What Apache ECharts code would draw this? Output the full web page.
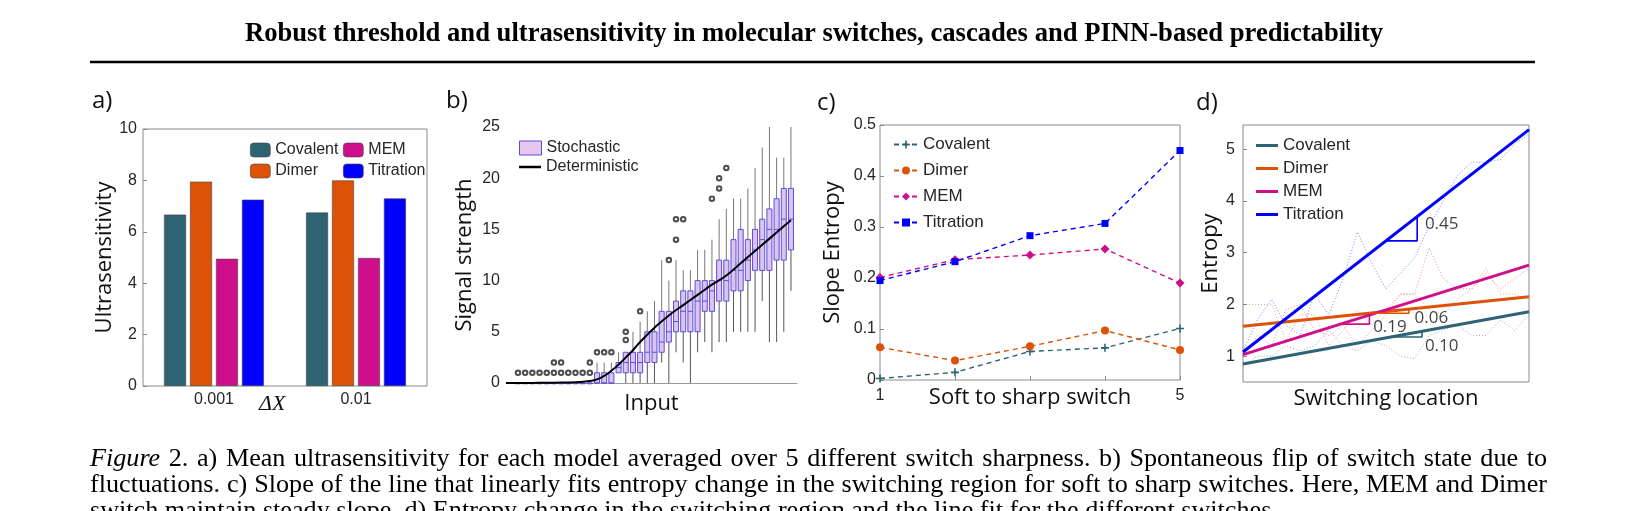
<!DOCTYPE html>
<html><head><meta charset="utf-8">
<script src="https://cdn.jsdelivr.net/npm/echarts@6/dist/echarts.min.js"></script>
<style>html,body{margin:0;padding:0;background:#fff}#c{width:1639px;height:511px}</style>
</head><body><div id="c"></div>
<script>
// ---- Panel a ----
const aCats = ['0.001', '0.01'];
const aCovalent = [6.67, 6.75];
const aDimer = [7.95, 8.0];
const aMEM = [4.95, 4.98];
const aTitration = [7.25, 7.3];
// ---- Panel b ----
const bPos = [1,2,3,4,5,6,7,8,9,10,11,12,13,14,15,16,17,18,19,20,21,22,23,24,25,26,27,28,29,30,31,32,33,34,35,36,37,38,39];
const bLow = [0,0,0,0,0,0,0,0,0,0,0,0,0,0,1,0,0,0,0,0,2,0,3,2,0,3,4,3,4,4,5,5,5,5,8,4,4,5,9];
const bQ1  = [0,0,0,0,0,0,0,0,0,0,0,0,0,0,1,1,1,1,2,2,3,4,5,5,5,5,7,7,8,8,9,9,10,11,11,11,12,12,13];
const bMed = [0,0,0,0,0,0,0,0,0,0,0,0,0,0,1.5,2,2,2,3,3,4,5,6,7,7,8,8,9,10,10,11,11,12,13,14,15,15,16,16];
const bQ3  = [0,0,0,0,0,0,0,0,0,0,0,1,1,1,2,3,3,3,5,5,7,7,8,9,9,10,10,10,12,12,14,15,14,15,16,17,18,19,19];
const bHigh= [0,0,0,0,0,0,0,0,0,0,0,2,2,2,3,3,5,6,7,8,12,10,12,11,11,13,13,14,16,17,18,18,19,21,23,25,22,22,25];
const bOutliers = [[1,1],[2,1],[3,1],[4,1],[5,1],[6,1],[6,2],[7,1],[7,2],[8,1],[9,1],[10,1],[11,1],[11,2],
  [12,3],[13,3],[14,3],[16,4.2],[16,5],[18,7],[22,12],[23,14],[23,16],[24,16],[28,18],[29,19],[29,20],[30,21]];
const bDetX = [-0.67,3,6,9,11,12,13,14,15,16,17,18,20,22,24,26,28,30,32,34,36,38,39];
const bDetY = [0,0.01,0.03,0.08,0.2,0.35,0.7,1.2,1.8,2.5,3.2,4.0,5.4,6.6,7.6,8.6,9.6,10.5,11.7,12.9,14.1,15.3,15.9];
// ---- Panel c ----
const cX = [1,2,3,4,5];
const cCovalent = [0.003,0.015,0.056,0.063,0.101];
const cDimer = [0.064,0.038,0.066,0.097,0.059];
const cMEM = [0.201,0.236,0.245,0.257,0.19];
const cTitration = [0.195,0.232,0.283,0.307,0.45];
// ---- Panel d ----
const dX = [0,0.05,0.1,0.15,0.2,0.25,0.3,0.35,0.4,0.45,0.5,0.55,0.6,0.65,0.7,0.75,0.8,0.85,0.9,0.95,1];
const dTitRaw = [1.1,1.7,2.1,1.6,1.4,2.2,1.8,2.5,3.4,2.8,2.3,2.6,2.9,3.5,4.0,4.5,4.75,4.75,4.8,5.1,5.3];
const dMEMRaw = [1.0,1.4,1.2,1.9,2.0,1.5,1.4,1.6,1.2,1.5,1.8,2.2,2.2,3.1,2.5,2.3,2.3,2.6,2.3,2.5,2.7];
const dDimRaw = [2.0,2.0,2.0,1.3,1.8,1.8,1.2,1.5,1.9,1.6,1.9,2.2,2.2,1.9,1.8,2.1,2.3,2.7,2.2,2.2,2.1];
const dCovRaw = [0.8,1.0,1.0,1.2,1.1,1.2,1.5,1.2,1.1,1.3,1.2,1.0,0.95,1.4,1.5,1.6,1.4,1.4,1.7,1.5,1.8];
const dFitX = [0, 1];
const dFitCov = [0.85, 1.86];
const dFitDim = [1.58, 2.15];
const dFitMEM = [1.03, 2.76];
const dFitTit = [1.08, 5.38];
const dTriTit = [[0.499,3.23],[0.609,3.23],[0.609,3.70]];
const dTriMEM = [[0.339,1.62],[0.442,1.62],[0.442,1.79]];
const dTriDim = [[0.444,1.83],[0.58,1.83],[0.58,1.91]];
const dTriCov = [[0.517,1.37],[0.626,1.37],[0.626,1.48]];
const dSlopeLabels = [[0.636,3.55,'0.45'],[0.455,1.57,'0.19'],[0.6,1.74,'0.06'],[0.636,1.2,'0.10']];
// ---- Text ----
const titleText = 'Robust threshold and ultrasensitivity in molecular switches, cascades and PINN-based predictability';
const captionLines = [
  'Figure 2. a) Mean ultrasensitivity for each model averaged over 5 different switch sharpness. b) Spontaneous flip of switch state due to',
  'fluctuations. c) Slope of the line that linearly fits entropy change in the switching region for soft to sharp switches. Here, MEM and Dimer',
  'switch maintain steady slope. d) Entropy change in the switching region and the line fit for the different switches.'
];

const C = {cov:'#2d6373', dim:'#dc5307', mem:'#cf0e8c', tit:'#0000ff'};
const SANS = 'Liberation Sans';
const LBL = 'Open Sans';
const zip = (xs, ys) => xs.map((x,i)=>[x, ys[i]]);

const chart = echarts.init(document.getElementById('c'), null, {renderer:'canvas'});
const grids = [
  {left:143, top:129, width:284, height:257},
  {left:506, top:127, width:291, height:256},
  {left:880, top:125, width:300, height:255},
  {left:1243, top:125, width:286, height:257}
].map((g,i)=>Object.assign({show: i!==1, borderColor:'#8a8a8a', borderWidth:1, backgroundColor:'transparent'}, g));

const axLab = (sz)=>({color:'#262626', fontFamily:SANS, fontSize:sz});
const nameSt = {color:'#111', fontFamily:LBL, fontSize:22};

const xAxes = [
  {gridIndex:0, type:'category', data:aCats, axisLine:{show:false}, axisTick:{show:false},
   axisLabel:Object.assign(axLab(16),{margin:6})},
  {gridIndex:1, type:'value', min:-0.67, max:39.84, axisLine:{show:true, lineStyle:{color:'#999'}},
   axisTick:{show:false}, axisLabel:{show:false}, splitLine:{show:false},
   name:'Input', nameLocation:'middle', nameGap:10, nameTextStyle:nameSt},
  {gridIndex:2, type:'value', min:1, max:5, axisLine:{show:false},
   axisTick:{show:true, inside:true, length:4, lineStyle:{color:'#888'}, customValues:[1,2,3,4,5]},
   axisLabel:Object.assign(axLab(16),{customValues:[1,5], margin:8}), splitLine:{show:false}},
  {gridIndex:3, type:'value', min:0, max:1, axisLine:{show:false}, axisTick:{show:false},
   axisLabel:{show:false}, splitLine:{show:false},
   name:'Switching location', nameLocation:'middle', nameGap:6, nameTextStyle:nameSt}
];
const yAxes = [
  {gridIndex:0, type:'value', min:0, max:10, interval:2, axisLine:{show:false},
   axisTick:{show:true, inside:true, length:4, lineStyle:{color:'#888'}}, splitLine:{show:false},
   axisLabel:Object.assign(axLab(16),{margin:6}),
   name:'Ultrasensitivity', nameLocation:'middle', nameGap:22, nameTextStyle:nameSt},
  {gridIndex:1, type:'value', min:0, max:25, interval:5, axisLine:{show:false}, axisTick:{show:false},
   splitLine:{show:false}, axisLabel:Object.assign(axLab(16),{margin:6}),
   name:'Signal strength', nameLocation:'middle', nameGap:30, nameTextStyle:nameSt},
  {gridIndex:2, type:'value', min:0, max:0.5, interval:0.1, axisLine:{show:false},
   axisTick:{show:true, inside:true, length:4, lineStyle:{color:'#888'}}, splitLine:{show:false},
   axisLabel:Object.assign(axLab(16),{margin:4, formatter:v=>v===0?'0':v.toFixed(1)}),
   name:'Slope Entropy', nameLocation:'middle', nameGap:36, nameTextStyle:nameSt},
  {gridIndex:3, type:'value', min:0.5, max:5.47, axisLine:{show:false},
   axisTick:{show:true, inside:true, length:4, lineStyle:{color:'#888'}, customValues:[1,2,3,4,5]},
   splitLine:{show:false}, axisLabel:Object.assign(axLab(16),{margin:8, customValues:[1,2,3,4,5]}),
   name:'Entropy', nameLocation:'middle', nameGap:21, nameTextStyle:nameSt}
];

const bar = (name, data, color) => ({type:'bar', name, xAxisIndex:0, yAxisIndex:0, data,
  barWidth:22, barGap:'18%', itemStyle:{color, borderColor:'#444', borderWidth:0.6}});
const cLine = (name, data, color, symbol, size) => ({type:'line', name, xAxisIndex:2, yAxisIndex:2,
  data:zip(cX,data), symbol, symbolSize:size, showSymbol:true,
  lineStyle:{color, width:1.4, type:[5,4]}, itemStyle:{color}});
const dRaw = (data, color) => ({type:'line', xAxisIndex:3, yAxisIndex:3, data:zip(dX,data), symbol:'none',
  lineStyle:{color, width:1, type:[1,2], opacity:0.5}, silent:true});
const dFit = (name, data, color) => ({type:'line', name, xAxisIndex:3, yAxisIndex:3, data:zip(dFitX,data),
  symbol:'none', lineStyle:{color, width:3}, itemStyle:{color}});
const dTri = (data, color) => ({type:'line', xAxisIndex:3, yAxisIndex:3, data, symbol:'none',
  lineStyle:{color, width:1.6}, silent:true});

const boxData = bPos.map((p,i)=>[p, bLow[i], bQ1[i], bMed[i], bQ3[i], bHigh[i]]);

const series = [
  bar('Covalent', aCovalent, C.cov), bar('Dimer', aDimer, C.dim), bar('MEM', aMEM, C.mem), bar('Titration', aTitration, C.tit),
  {type:'custom', name:'Stochastic', xAxisIndex:1, yAxisIndex:1, data:boxData,
   itemStyle:{color:'#e6c8ee', borderColor:'#5a4fd6'},
   renderItem:(params, api)=>{
     const x = api.value(0);
     const lo = api.coord([x, api.value(1)]), q1 = api.coord([x, api.value(2)]),
           md = api.coord([x, api.value(3)]), q3 = api.coord([x, api.value(4)]), hi = api.coord([x, api.value(5)]);
     const w = api.size([1,0])[0]*0.7;
     const ch = [
       {type:'line', shape:{x1:lo[0], y1:lo[1], x2:q1[0], y2:q1[1]}, style:{stroke:'#555', lineWidth:1}},
       {type:'line', shape:{x1:q3[0], y1:q3[1], x2:hi[0], y2:hi[1]}, style:{stroke:'#777', lineWidth:1}},
       {type:'rect', shape:{x:lo[0]-w/2, y:q3[1], width:w, height:Math.max(q1[1]-q3[1],0.8)},
        style:{fill:'#dcc3f0', stroke:'#5a4fd6', lineWidth:1}},
       {type:'line', shape:{x1:md[0]-w/2, y1:md[1], x2:md[0]+w/2, y2:md[1]}, style:{stroke:'#5a4fd6', lineWidth:1}}
     ];
     return {type:'group', children:ch};
   }},
  {type:'scatter', xAxisIndex:1, yAxisIndex:1, data:bOutliers, symbol:'emptyCircle', symbolSize:4.5,
   itemStyle:{color:'#222', borderColor:'#222', borderWidth:0.9}, silent:true, z:5},
  {type:'line', name:'Deterministic', xAxisIndex:1, yAxisIndex:1, data:zip(bDetX,bDetY), symbol:'none', smooth:true,
   lineStyle:{color:'#000', width:2}, itemStyle:{color:'#000'}},
  cLine('Covalent ', cCovalent, C.cov, 'path://M4,0h2v4h4v2h-4v4h-2v-4h-4v-2h4z', 8),
  cLine('Dimer ', cDimer, C.dim, 'circle', 8),
  cLine('MEM ', cMEM, C.mem, 'diamond', 9),
  cLine('Titration ', cTitration, C.tit, 'rect', 7),
  dRaw(dCovRaw, C.cov), dRaw(dDimRaw, C.dim), dRaw(dMEMRaw, C.mem), dRaw(dTitRaw, C.tit),
  dFit('Covalent  ', dFitCov, C.cov), dFit('Dimer  ', dFitDim, C.dim), dFit('MEM  ', dFitMEM, C.mem), dFit('Titration  ', dFitTit, C.tit),
  dTri(dTriTit, C.tit), dTri(dTriMEM, C.mem), dTri(dTriDim, C.dim), dTri(dTriCov, C.cov),
  {type:'scatter', xAxisIndex:3, yAxisIndex:3, data:dSlopeLabels, symbolSize:0, silent:true,
   label:{show:true, position:'right', distance:0, formatter:p=>p.data[2], color:'#111', fontFamily:LBL, fontSize:17}}
];

const legTxt = (sz)=>({color:'#262626', fontFamily:SANS, fontSize:sz});
const lineIcon = (name, color) => ({name, icon:'rect', itemStyle:{color}});
const legends = [
  {data:['Covalent','Dimer'], left:245, top:137, orient:'vertical', itemWidth:20, itemHeight:14, itemGap:5,
   itemStyle:{borderColor:'#444', borderWidth:0.6}, textStyle:legTxt(16), selectedMode:false},
  {data:['MEM','Titration'], left:338, top:137, orient:'vertical', itemWidth:20, itemHeight:14, itemGap:5,
   itemStyle:{borderColor:'#444', borderWidth:0.6}, textStyle:legTxt(16), selectedMode:false},
  {data:[{name:'Stochastic', icon:'rect', itemStyle:{color:'#e6c8ee', borderColor:'#5a4fd6', borderWidth:1}}],
   left:514, top:135, itemWidth:22, itemHeight:14, textStyle:legTxt(16), selectedMode:false},
  {data:[lineIcon('Deterministic','#000')], left:514, top:154, itemWidth:22, itemHeight:2.5, textStyle:legTxt(16), selectedMode:false},
  {data:['Covalent ','Dimer ','MEM ','Titration '], left:888, top:131, orient:'vertical', itemWidth:24, itemHeight:10, itemGap:9,
   textStyle:legTxt(17), selectedMode:false, formatter:n=>n.trim()},
  {data:[lineIcon('Covalent  ',C.cov), lineIcon('Dimer  ',C.dim), lineIcon('MEM  ',C.mem), lineIcon('Titration  ',C.tit)],
   left:1251, top:132, orient:'vertical', itemWidth:22, itemHeight:3, itemGap:6,
   textStyle:legTxt(17), selectedMode:false, formatter:n=>n.trim()}
];

const mctx = document.createElement('canvas').getContext('2d');
const measure = (t, font) => { mctx.font = font; return mctx.measureText(t).width; };
const graphic = [];
{
  const f20 = 'bold 20px "Liberation Serif"';
  const sz = 20 * 1138 / measure(titleText, f20);
  graphic.push({type:'text', x:814, y:48, style:{text:titleText, font:'bold '+sz.toFixed(2)+'px "Liberation Serif"',
    fill:'#000', align:'center', verticalAlign:'bottom'}});
}
{
  const X0 = 90, X1 = 1547, base = [466, 492, 518];
  const fn = s => s.toFixed(2)+'px "Liberation Serif"';
  const w20 = measure(captionLines[0], '20px "Liberation Serif"');
  const sz = Math.min(20 * (X1-X0) / w20 * 0.97, 30);
  captionLines.forEach((line, li) => {
    const words = line.split(' ');
    const fonts = words.map((w,i)=> (li===0 && i===0) ? 'italic '+fn(sz) : fn(sz));
    const widths = words.map((w,i)=>measure(w, fonts[i]));
    const total = widths.reduce((a,b)=>a+b,0);
    const gap = li < 2 ? (X1-X0-total)/(words.length-1) : measure(' ', fn(sz));
    let x = X0;
    words.forEach((w,i)=>{
      graphic.push({type:'text', x, y:base[li] + sz*0.22, style:{text:w, font:fonts[i], fill:'#000', verticalAlign:'bottom'}});
      x += widths[i] + gap;
    });
  });
}
graphic.push(
  {type:'line', shape:{x1:90, y1:62, x2:1535, y2:62}, style:{stroke:'#000', lineWidth:2.5}},
  {type:'text', x:92, y:89, style:{text:'a)', font:'24px "Open Sans"', fill:'#111'}},
  {type:'text', x:446, y:89, style:{text:'b)', font:'24px "Open Sans"', fill:'#111'}},
  {type:'text', x:817, y:91, style:{text:'c)', font:'24px "Open Sans"', fill:'#111'}},
  {type:'text', x:1196, y:91, style:{text:'d)', font:'24px "Open Sans"', fill:'#111'}},
  {type:'text', x:259, y:393, style:{text:'ΔX', font:'italic 22px "Liberation Serif"', fill:'#111'}},
  {type:'text', x:1030, y:387, style:{text:'Soft to sharp switch', font:'22px "Open Sans"', fill:'#111', align:'center'}}
);

chart.setOption({animation:false, backgroundColor:'#fff', grid:grids, xAxis:xAxes, yAxis:yAxes, series, legend:legends, graphic});
</script></body></html>
